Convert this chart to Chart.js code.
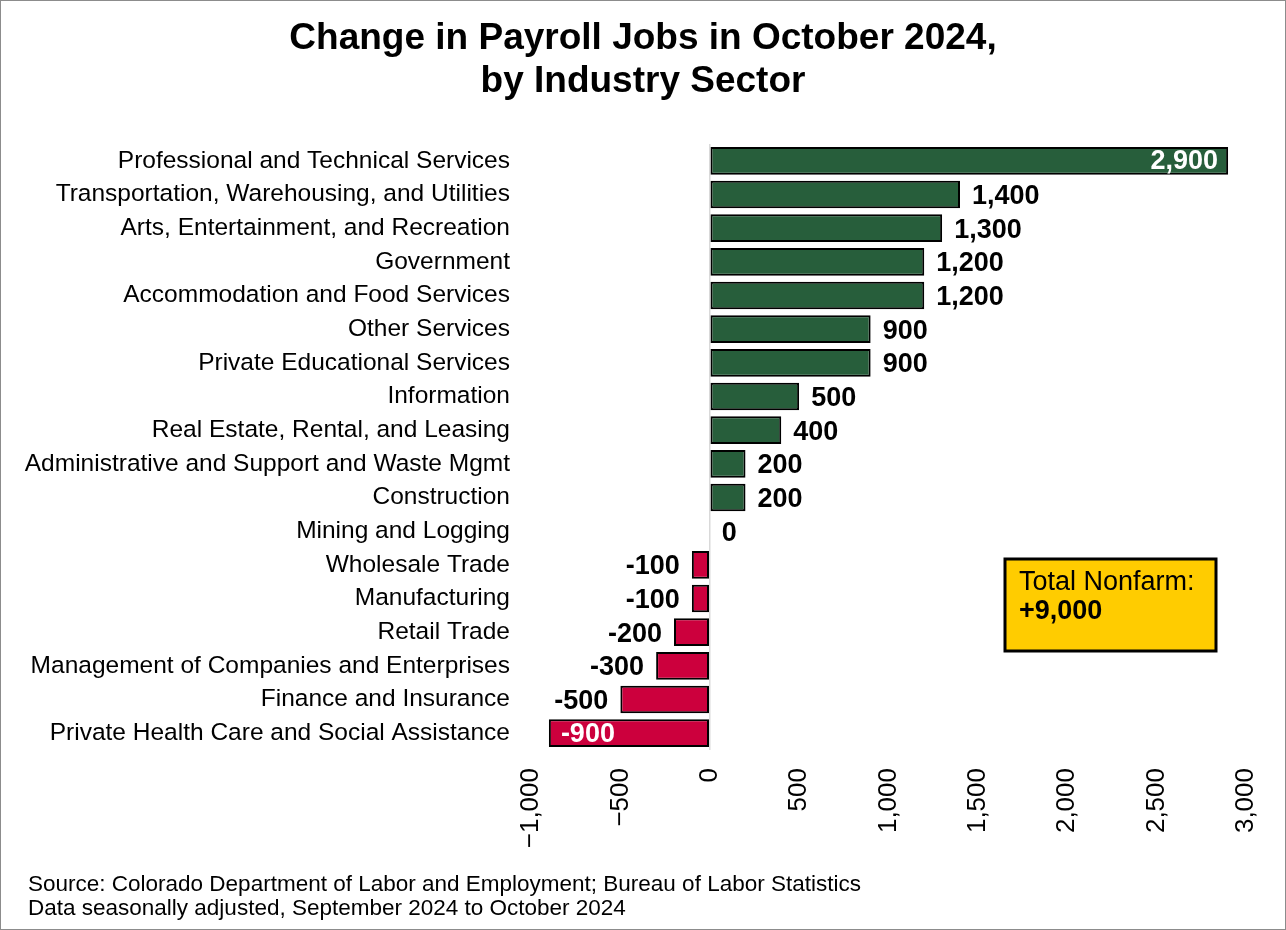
<!DOCTYPE html>
<html>
<head>
<meta charset="utf-8">
<script src="https://cdn.jsdelivr.net/npm/chart.js@4.4.1/dist/chart.umd.min.js"></script>
<style>
  html, body { margin: 0; padding: 0; background: #fff; }
  #wrap { width: 1286px; height: 930px; }
</style>
</head>
<body>
<div id="wrap"><canvas id="jobsChart" width="1286" height="930"></canvas></div>
<script>
const sectors = [
    'Professional and Technical Services',
    'Transportation, Warehousing, and Utilities',
    'Arts, Entertainment, and Recreation',
    'Government',
    'Accommodation and Food Services',
    'Other Services',
    'Private Educational Services',
    'Information',
    'Real Estate, Rental, and Leasing',
    'Administrative and Support and Waste Mgmt',
    'Construction',
    'Mining and Logging',
    'Wholesale Trade',
    'Manufacturing',
    'Retail Trade',
    'Management of Companies and Enterprises',
    'Finance and Insurance',
    'Private Health Care and Social Assistance'
];
const jobChange = [2900, 1400, 1300, 1200, 1200, 900, 900, 500, 400, 200, 200, 0, -100, -100, -200, -300, -500, -900];
const xTicks = [-1000, -500, 0, 500, 1000, 1500, 2000, 2500, 3000];
const titleLines = ['Change in Payroll Jobs in October 2024,', 'by Industry Sector'];
const notes = [
    'Source: Colorado Department of Labor and Employment; Bureau of Labor Statistics',
    'Data seasonally adjusted, September 2024 to October 2024'
];
const totalLabel = 'Total Nonfarm:';
const totalValue = '+9,000';

const GREEN = '#275E3B';
const RED = '#CC003D';
const FONT = '"Liberation Sans", Arial, sans-serif';

function fmt(v) {
    const s = Math.abs(v).toLocaleString('en-US');
    return v < 0 ? '-' + s : s;
}

// background, frame, title, footnotes and the total box
const extras = {
    id: 'extras',
    beforeDraw(chart) {
        const ctx = chart.ctx;
        ctx.save();
        ctx.fillStyle = '#fff';
        ctx.fillRect(0, 0, chart.width, chart.height);
        ctx.strokeStyle = '#8c8c8c';
        ctx.lineWidth = 1;
        ctx.strokeRect(0.5, 0.5, chart.width - 1, chart.height - 1);
        ctx.restore();
    },
    afterDraw(chart) {
        const ctx = chart.ctx;
        ctx.save();
        ctx.fillStyle = '#000';
        ctx.textAlign = 'center';
        ctx.textBaseline = 'alphabetic';
        ctx.font = 'bold 37px ' + FONT;
        ctx.fillText(titleLines[0], 643, 49);
        ctx.fillText(titleLines[1], 643, 92);

        ctx.textAlign = 'left';
        ctx.textBaseline = 'middle';
        ctx.font = '22.5px ' + FONT;
        ctx.fillText(notes[0], 28, 885);
        ctx.fillText(notes[1], 28, 909);

        // total nonfarm box
        ctx.fillStyle = '#FFCC00';
        ctx.fillRect(1005, 559, 211, 92);
        ctx.strokeStyle = '#000';
        ctx.lineWidth = 3;
        ctx.strokeRect(1005, 559, 211, 92);
        ctx.fillStyle = '#000';
        ctx.font = '27px ' + FONT;
        ctx.fillText(totalLabel, 1019, 583);
        ctx.font = 'bold 27px ' + FONT;
        ctx.fillText(totalValue, 1019, 612);
        ctx.restore();
    }
};

// value labels at the bar ends
const valueLabels = {
    id: 'valueLabels',
    afterDatasetsDraw(chart) {
        const ctx = chart.ctx;
        const meta = chart.getDatasetMeta(0);
        ctx.save();
        ctx.font = 'bold 27px ' + FONT;
        ctx.textBaseline = 'middle';
        meta.data.forEach((bar, i) => {
            const v = jobChange[i];
            const txt = fmt(v);
            const inside = v > 2000 || v < -800;
            if (v >= 0) {
                if (inside) {
                    ctx.fillStyle = '#fff';
                    ctx.textAlign = 'right';
                    ctx.fillText(txt, bar.x - 10, bar.y + 1);
                } else {
                    ctx.fillStyle = '#000';
                    ctx.textAlign = 'left';
                    ctx.fillText(txt, bar.x + 12, bar.y + 2);
                }
            } else {
                if (inside) {
                    ctx.fillStyle = '#fff';
                    ctx.textAlign = 'left';
                    ctx.fillText(txt, bar.x + 12, bar.y + 1);
                } else {
                    ctx.fillStyle = '#000';
                    ctx.textAlign = 'right';
                    ctx.fillText(txt, bar.x - 12, bar.y + 2);
                }
            }
        });
        ctx.restore();
    }
};

new Chart('jobsChart', {
    type: 'bar',
    data: {
        labels: sectors,
        datasets: [{
            data: jobChange,
            backgroundColor: jobChange.map(v => v < 0 ? RED : GREEN),
            borderColor: '#000',
            borderWidth: 2,
            borderSkipped: false,
            barPercentage: 0.82,
            categoryPercentage: 1
        }]
    },
    options: {
        indexAxis: 'y',
        responsive: false,
        animation: false,
        layout: { padding: { left: 0, right: 40, top: 144, bottom: 70 } },
        plugins: {
            legend: { display: false },
            tooltip: { enabled: false },
            title: { display: false }
        },
        scales: {
            x: {
                min: -1000,
                max: 3000,
                afterBuildTicks(scale) {
                    scale.ticks = xTicks.map(v => ({ value: v }));
                },
                afterFit(scale) {
                    scale.height = 110;
                    scale.paddingLeft = 0;
                    scale.paddingRight = 0;
                },
                border: { display: false },
                grid: {
                    drawTicks: false,
                    color: ctx => ctx.tick && ctx.tick.value === 0 ? '#d9d9d9' : 'rgba(0,0,0,0)',
                    lineWidth: 1.5
                },
                ticks: {
                    minRotation: 90,
                    maxRotation: 90,
                    padding: 18,
                    color: '#000',
                    font: { family: FONT, size: 26 },
                    callback: v => v < 0 ? '\u2212' + Math.abs(v).toLocaleString('en-US') : v.toLocaleString('en-US')
                }
            },
            y: {
                afterFit(scale) {
                    scale.width = 531;
                },
                border: { display: false },
                grid: { display: false, drawTicks: false },
                ticks: {
                    padding: 21,
                    color: '#000',
                    font: { family: FONT, size: 24.5 }
                }
            }
        }
    },
    plugins: [extras, valueLabels]
});
</script>
</body>
</html>
